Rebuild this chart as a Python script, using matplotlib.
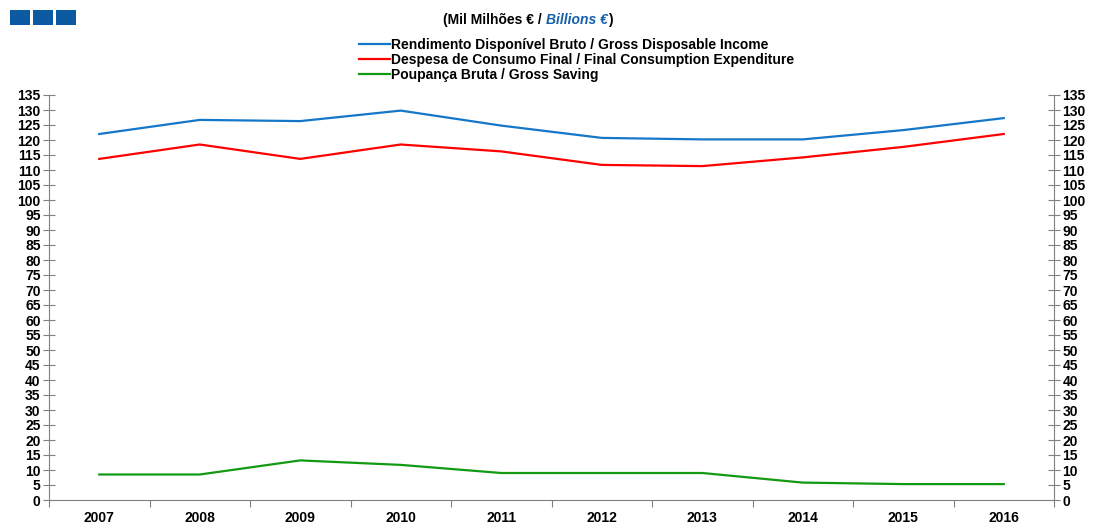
import numpy as np
import matplotlib.pyplot as plt
from matplotlib.patches import Rectangle

plt.rcParams.update({
    'font.family': ['Liberation Sans', 'DejaVu Sans'],
    'font.weight': 'bold',
    'font.size': 10,
})

# ========== DATA ==========
years = ['2007', '2008', '2009', '2010', '2011', '2012', '2013', '2014', '2015', '2016']
disposable_income = [122.0, 126.7, 126.3, 129.8, 124.8, 120.7, 120.2, 120.2, 123.3, 127.3]
consumption = [113.7, 118.5, 113.7, 118.5, 116.2, 111.7, 111.3, 114.2, 117.7, 122.0]
saving = [8.5, 8.5, 13.2, 11.7, 9.0, 9.0, 9.0, 5.8, 5.3, 5.3]

labels = ['Rendimento Disponível Bruto / Gross Disposable Income',
          'Despesa de Consumo Final / Final Consumption Expenditure',
          'Poupança Bruta / Gross Saving']
colors = ['#1577C8', '#FF0000', '#139A13']

W, H = 1095, 524
fig = plt.figure(figsize=(W / 100, H / 100), dpi=100)
ax = fig.add_axes([49 / W, 24 / H, (1054 - 49) / W, 405 / H])

x = np.arange(len(years))
lines = []
for vals, c, lab in zip([disposable_income, consumption, saving], colors, labels):
    ln, = ax.plot(x, vals, color=c, lw=1.6, label=lab)
    lines.append(ln)

ax.set_xlim(-0.5, len(years) - 0.5)
ax.set_ylim(0, 135)
ax.set_yticks(np.arange(0, 136, 5))
ax.set_xticks(np.arange(-0.5, len(years), 1))
ax.set_xticklabels([])
ax.set_xticks(x, minor=True)
ax.set_xticklabels(years, minor=True)
ax.tick_params(axis='x', which='major', direction='out', length=5, color='#808080')
ax.tick_params(axis='x', which='minor', length=0, pad=8, labelsize=10)
ax.tick_params(axis='y', direction='inout', length=8, color='#808080',
               left=True, right=True, labelleft=True, labelright=True, pad=2,
               labelsize=10)
for s in ['left', 'right', 'bottom']:
    ax.spines[s].set_color('#808080')
ax.spines['top'].set_visible(False)

fig.legend(handles=lines, loc='upper left', bbox_to_anchor=(352 / W, 1 - 31 / H),
           frameon=False, handlelength=2.2, handletextpad=0.1,
           labelspacing=0.08, borderpad=0, prop={'weight': 'bold', 'size': 10})

# logo squares
for x0 in [10, 32.5, 55.5]:
    fig.add_artist(Rectangle((x0 / W, 1 - 24.5 / H), 20.5 / W, 14.5 / H,
                             transform=fig.transFigure, color='#0B5AA2', lw=0))

# title with blue italic part
fig.canvas.draw()
r = fig.canvas.get_renderer()
ty = 1 - 20 / H
pieces = [('(Mil Milhões € / ', 'black', 'normal'),
          ('Billions €', '#1560A8', 'italic'),
          (')', 'black', 'normal')]
tmp = []
total = 0
for s, c, st in pieces:
    t = fig.text(0, ty, s, color=c, style=st, fontsize=10, fontweight='bold', va='center')
    w = t.get_window_extent(r).width
    tmp.append((t, w))
    total += w
xpos = 528 - total / 2
for t, w in tmp:
    t.set_x(xpos / W)
    xpos += w

fig.savefig('out.png', dpi=100)
